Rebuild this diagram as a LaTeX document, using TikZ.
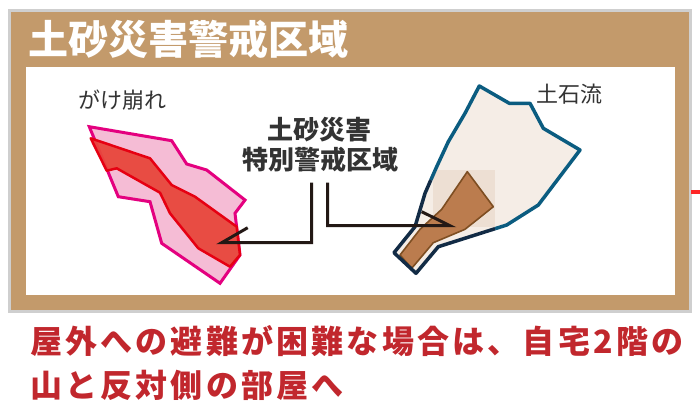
\documentclass[tikz,border=0pt]{standalone}
\usepackage{fontspec}
\newfontfamily\jp{Noto Sans CJK JP}
\newfontfamily\jpsp[LetterSpace=10]{Noto Sans CJK JP}
\usetikzlibrary{calc}

\definecolor{framebrown}{HTML}{C39A6B}
\definecolor{framegray}{HTML}{CFCFCF}
\definecolor{inkdark}{HTML}{333333}
\definecolor{arrowdark}{HTML}{231815}
\definecolor{cliffline}{HTML}{E4007F}
\definecolor{clifffill}{HTML}{F5BCD5}
\definecolor{coreline}{HTML}{E60012}
\definecolor{corefill}{HTML}{E8463C}
\definecolor{flowline}{HTML}{0B5C80}
\definecolor{flowdark}{HTML}{122B45}
\definecolor{flowfill}{HTML}{F5EDE6}
\definecolor{channelfill}{HTML}{BB7C4E}
\definecolor{channelline}{HTML}{7E4E22}
\definecolor{notered}{HTML}{C1272D}

\tikzset{
  areatext/.style={font=\jp\fontsize{22}{26}\selectfont, text=inkdark, inner sep=0pt},
  zonetext/.style={font=\jp\bfseries\fontsize{26}{33}\selectfont, text=inkdark, inner sep=0pt, align=center},
  notetext/.style={font=\jpsp\bfseries\fontsize{32}{38}\selectfont, text=notered, inner sep=0pt, anchor=west},
  pointer/.style={draw=arrowdark, line width=3pt, line join=miter, line cap=butt},
}

\begin{document}
\begin{tikzpicture}[x=1pt,y=-1pt]
\useasboundingbox (0,0) rectangle (700,416);

% frame: gray edge, brown band, white panel
\fill[framegray] (8,9) rectangle (692,313);
\fill[framebrown] (11,12) rectangle (688.5,310);
\fill[white] (26,66.7) rectangle (675,295);
\draw[red!85!white, line width=4pt] (691,192) -- (700,192);

\node[anchor=west, inner sep=0pt, text=white, font=\jp\bfseries\fontsize{40}{44}\selectfont] (title) at (28,39) {土砂災害警戒区域};

% cliff failure zone
\filldraw[fill=clifffill, draw=cliffline, line width=3pt, line join=miter]
  (89.3,126.7) -- (171.7,140.7) -- (186.7,164) -- (206.7,170) -- (245,200) -- (235,213.3)
  -- (240,255) -- (220,283.3) -- (161.7,243.3) -- (150,201.7) -- (118.3,196.7) -- cycle;
\filldraw[fill=corefill, draw=coreline, line width=2.5pt, line join=round, fill opacity=0.95]
  (90.7,138.3) -- (150,158.3) -- (171.7,185) -- (195,196.7) -- (236.7,226.7) -- (240,255)
  -- (230,266.7) -- (198.3,248.3) -- (170,213.3) -- (160,192.7) -- (116.7,168.3) -- (106.7,170.7) -- cycle;

% debris flow zone
\fill[flowfill]
  (479.3,86) -- (509.3,103.3) -- (530,103.3) -- (543.3,128.3) -- (580,150) -- (538.3,205)
  -- (506.7,225) -- (438.3,246.7) -- (416,273.3) -- (394,252.7) -- (415,226.7) -- (425,193.3)
  -- (436.7,166.7) -- (448.3,141.7) -- (465,113.3) -- cycle;
\fill[channelfill, opacity=0.12] (433.3,170) rectangle (495,226.7);
\filldraw[fill=channelfill, draw=channelline, line width=1.6pt, line join=round]
  (467.3,171.7) -- (493.3,206.7) -- (465,229.3) -- (433.3,242.7) -- (411.7,268.3)
  -- (400,255) -- (420,229.3) -- (441.7,209.3) -- cycle;
\draw[flowline, line width=3.5pt, line join=round]
  (430.8,180) -- (436.7,166.7) -- (448.3,141.7) -- (465,113.3) -- (479.3,86) -- (509.3,103.3)
  -- (530,103.3) -- (543.3,128.3) -- (580,150) -- (538.3,205) -- (506.7,225) -- (495,228.7);
\draw[flowdark, line width=3.5pt, line join=round]
  (495,228.7) -- (438.3,246.7) -- (416,273.3) -- (394,252.7) -- (415,226.7) -- (425,193.3) -- (430.8,180);

% labels
\node[areatext] (cliff) at (122,100) {がけ崩れ};
\node[areatext] (flow) at (569.5,94) {土石流};
\node[zonetext] (zone1) at (319,130) {土砂災害};
\node[zonetext] (zone2) at (320.3,160) {特別警戒区域};

% leader lines with half arrowheads
\coordinate (startL) at (311.7,182.7);
\coordinate (tipL) at (221.7,242.7);
\coordinate (startR) at (327.7,182.7);
\coordinate (tipR) at (450,225.7);
\draw[pointer] (startL) |- (tipL) -- ++(26,-15);
\draw[pointer] (startR) |- (tipR) -- ++(-28.3,-14);

% note below the frame
\node[notetext] (note1) at (30,341.5) {屋外への避難が困難な場合は、自宅2階の};
\node[notetext] (note2) at (30,385.5) {山と反対側の部屋へ};
\end{tikzpicture}
\end{document}
